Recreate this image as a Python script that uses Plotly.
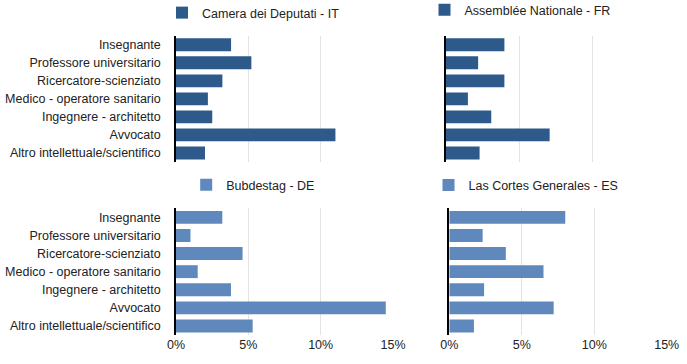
import plotly.graph_objects as go

categories = [
    "Insegnante",
    "Professore universitario",
    "Ricercatore-scienziato",
    "Medico - operatore sanitario",
    "Ingegnere - architetto",
    "Avvocato",
    "Altro intellettuale/scientifico",
]

series_names = [
    "Camera dei Deputati - IT",
    "Assemblée Nationale - FR",
    "Bubdestag - DE",
    "Las Cortes Generales - ES",
]

values_it = [3.8, 5.2, 3.2, 2.2, 2.5, 11.0, 2.0]
values_fr = [4.0, 2.2, 4.0, 1.5, 3.1, 7.1, 2.3]
values_de = [3.2, 1.0, 4.6, 1.5, 3.8, 14.5, 5.3]
values_es = [8.0, 2.3, 3.9, 6.5, 2.4, 7.2, 1.7]

tick_vals = [0, 5, 10, 15]
tick_text = ["0%", "5%", "10%", "15%"]

W, H = 687, 364
DARK = "#2e5a8b"
LIGHT = "#5f88bd"
FONT = "Liberation Sans, Arial, sans-serif"
TXT = "#222222"

def px_x(p):
    return p / W

def px_y(p):
    return 1 - p / H

panels = [
    # values, name, color, xaxis, yaxis, x-domain px, y-domain px, legend square center px
    (values_it, series_names[0], DARK, "x", "y", (176, 393.7), (35.7, 162), (184.5, 13)),
    (values_fr, series_names[1], DARK, "x2", "y2", (446, 665.3), (35.7, 162), (447, 10)),
    (values_de, series_names[2], LIGHT, "x3", "y3", (176, 393.3), (208.3, 335), (208.7, 185)),
    (values_es, series_names[3], LIGHT, "x4", "y4", (449.3, 667), (208.3, 335), (451, 185.3)),
]

fig = go.Figure()
layout = dict(
    width=W, height=H,
    margin=dict(l=0, r=0, t=0, b=0, autoexpand=False),
    paper_bgcolor="white", plot_bgcolor="white",
    font=dict(family=FONT, size=12.5, color=TXT),
    bargap=0.29,
    showlegend=True,
)

for i, (vals, name, color, xa, ya, xd, yd, lc) in enumerate(panels):
    lg = "legend" if i == 0 else f"legend{i+1}"
    fig.add_trace(go.Bar(
        x=vals, y=categories, orientation="h", name=name,
        marker=dict(color=color, line=dict(width=0)),
        xaxis=xa, yaxis=ya, legend=lg, hoverinfo="x+y",
    ))
    suffix = "" if i == 0 else str(i + 1)
    bottom = i >= 2
    left = i % 2 == 0
    layout["xaxis" + suffix] = dict(
        domain=[px_x(xd[0]), px_x(xd[1])],
        range=[0, 15.02],
        anchor="y" + suffix,
        tickvals=tick_vals, ticktext=tick_text,
        showticklabels=bottom,
        showgrid=True, gridcolor="#e3e3e3", gridwidth=1,
        zeroline=False, showline=False, ticks="",
        tickfont=dict(size=12.5, color=TXT),
        automargin=False,
        fixedrange=True,
    )
    layout["yaxis" + suffix] = dict(
        domain=[px_y(yd[1]), px_y(yd[0])],
        anchor="x" + suffix,
        autorange="reversed",
        categoryorder="array", categoryarray=categories,
        showticklabels=left,
        showline=True, linecolor="#000000", linewidth=1.5,
        showgrid=False, zeroline=False, ticks="",
        ticklabelstandoff=11,
        tickfont=dict(size=12.5, color=TXT),
        automargin=False,
        fixedrange=True,
    )
    layout[lg] = dict(
        xref="container", yref="container",
        x=px_x(lc[0] - 22.5), y=px_y(lc[1]),
        xanchor="left", yanchor="middle",
        orientation="h",
        bgcolor="rgba(0,0,0,0)", borderwidth=0,
        font=dict(size=12.5, color=TXT),
        itemclick=False, itemdoubleclick=False,
    )

fig.update_layout(**layout)
fig.write_html(
    "out.html",
    config={"displayModeBar": False},
    post_script="document.body.style.margin='0';document.body.style.overflow='hidden';",
)
